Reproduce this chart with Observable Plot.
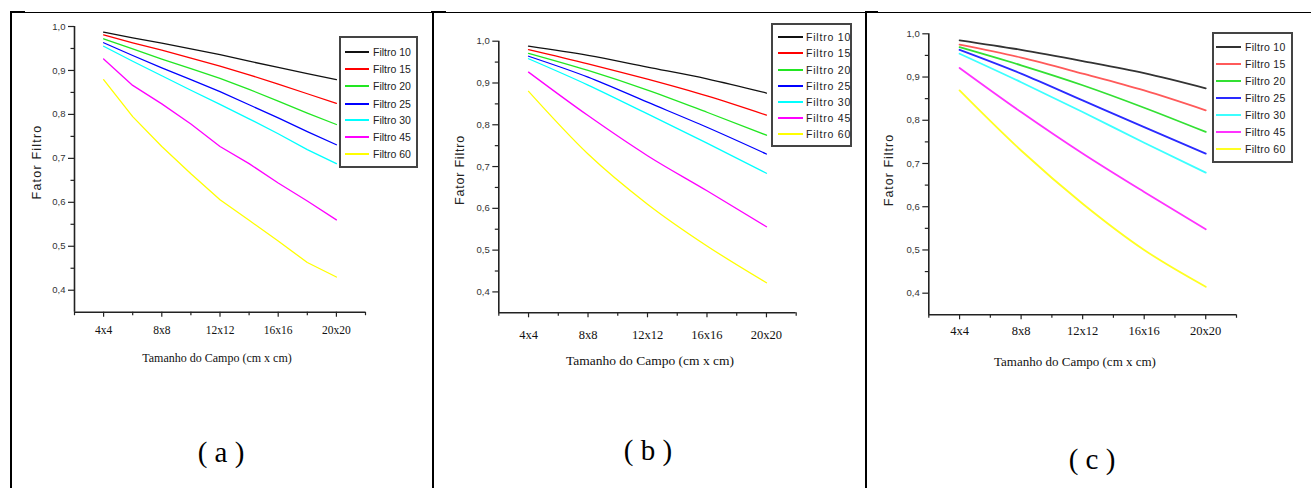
<!DOCTYPE html>
<html>
<head>
<meta charset="utf-8">
<script src="https://cdn.jsdelivr.net/npm/d3@7"></script>
<script src="https://cdn.jsdelivr.net/npm/@observablehq/plot@0.6"></script>
<style>
  html, body { margin: 0; padding: 0; background: #fff; }
  #root { position: relative; width: 1311px; height: 488px; overflow: hidden; background: #fff; }
  .hline { position: absolute; background: #000; }
  .ytitle { position: absolute; font-family: "Liberation Sans", Arial, sans-serif; font-size: 12.5px; color: #222; white-space: nowrap; transform: translate(-50%, -50%) rotate(-90deg); }
  .xtitle { position: absolute; font-family: "Liberation Serif", "Times New Roman", serif; color: #111; white-space: nowrap; transform: translate(-50%, -50%); }
  .plabel { position: absolute; font-family: "Liberation Serif", "Times New Roman", serif; font-size: 29px; color: #000; white-space: pre; transform: translate(-50%, -50%); }
  .legend { position: absolute; border: 2px solid #444; box-sizing: border-box; background: #fff; }
  .lrow { position: absolute; height: 14px; line-height: 14px; font-family: "Liberation Sans", Arial, sans-serif; font-size: 10.5px; color: #222; white-space: nowrap; }
  .sw { position: absolute; height: 0; }
</style>
</head>
<body>
<div id="root"></div>
<script>
// ---------- data ----------
const filters = ["Filtro 10", "Filtro 15", "Filtro 20", "Filtro 25", "Filtro 30", "Filtro 45", "Filtro 60"];
const colorsAB = ["#111111", "#ff0000", "#22e622", "#0000ff", "#00ffff", "#ff00ff", "#ffff00"];
const colorsC  = ["#333333", "#ff5a5a", "#33e033", "#2a2aff", "#3cffff", "#ff33ff", "#ffff22"];

const majorSizes = [4, 8, 12, 16, 20];
const minorSizes = [2, 6, 10, 14, 18, 22];
const sizeLabels = ["4x4", "8x8", "12x12", "16x16", "20x20"];
const majorY = [0.4, 0.5, 0.6, 0.7, 0.8, 0.9, 1.0];
const minorY = [0.45, 0.55, 0.65, 0.75, 0.85, 0.95];

// panel (a): read at every 2 cm
const sizesA = [4, 6, 8, 10, 12, 14, 16, 18, 20];
const panelA = [
  [0.987, 0.974, 0.962, 0.949, 0.936, 0.921, 0.907, 0.893, 0.879],
  [0.981, 0.963, 0.946, 0.928, 0.910, 0.890, 0.869, 0.847, 0.825],
  [0.972, 0.949, 0.926, 0.904, 0.882, 0.857, 0.830, 0.803, 0.777],
  [0.963, 0.934, 0.906, 0.879, 0.852, 0.822, 0.792, 0.761, 0.731],
  [0.955, 0.921, 0.888, 0.855, 0.823, 0.790, 0.756, 0.720, 0.688],
  [0.926, 0.866, 0.824, 0.778, 0.727, 0.688, 0.644, 0.603, 0.560],
  [0.879, 0.795, 0.727, 0.665, 0.606, 0.559, 0.512, 0.463, 0.430]
];
// panels (b) and (c): read at the labelled sizes
const sizesBC = [4, 8, 12, 16, 20];
const panelB = [
  [0.988, 0.966, 0.938, 0.910, 0.876],
  [0.980, 0.946, 0.909, 0.869, 0.823],
  [0.971, 0.930, 0.883, 0.830, 0.775],
  [0.964, 0.914, 0.854, 0.794, 0.730],
  [0.958, 0.895, 0.826, 0.756, 0.684],
  [0.926, 0.822, 0.726, 0.642, 0.556],
  [0.880, 0.730, 0.610, 0.510, 0.422]
];
const panelC = [
  [0.985, 0.963, 0.937, 0.909, 0.874],
  [0.975, 0.945, 0.908, 0.869, 0.823],
  [0.969, 0.927, 0.881, 0.829, 0.773],
  [0.963, 0.908, 0.846, 0.784, 0.723],
  [0.954, 0.888, 0.819, 0.748, 0.679],
  [0.921, 0.819, 0.723, 0.634, 0.548],
  [0.869, 0.730, 0.607, 0.500, 0.415]
];

const yTitle = "Fator Filtro";
const xTitle = "Tamanho do Campo (cm x cm)";
const panelLabels = ["( a )", "( b )", "( c )"];

// ---------- layout ----------
const root = document.getElementById("root");
function div(cls, css, text) {
  const d = document.createElement("div");
  if (cls) d.className = cls;
  Object.assign(d.style, css);
  if (text != null) d.textContent = text;
  root.appendChild(d);
  return d;
}

// table borders
div("hline", {left: "10px", top: "12px", width: "1301px", height: "1px"});
div("hline", {left: "10px", top: "11px", width: "15px", height: "2px"});
div("hline", {left: "431px", top: "11px", width: "15px", height: "2px"});
div("hline", {left: "865px", top: "11px", width: "13px", height: "2px"});
div("hline", {left: "10px", top: "12px", width: "2px", height: "476px"});
div("hline", {left: "432px", top: "12px", width: "2px", height: "476px"});
div("hline", {left: "865px", top: "12px", width: "2px", height: "476px"});

const panels = [
  {
    sizes: sizesA, values: panelA, colors: colorsAB, curve: "linear", sw: 1.3,
    svgLeft: 14, svgTop: 14, svgW: 416, svgH: 356,
    axL: 74, axR: 365, axT: 26, axB: 311.7, xTickPad: 9, xTickFont: 11.5,
    legend: {l: 339, r: 418, t: 36, b: 168, rows: [51.7, 69, 86, 103.7, 120, 137, 154], swL: 345, swR: 369, tx: 373, ls: 0},
    yTitle: {x: 37, y: 162, ls: 1.2},
    xTitle: {x: 217, y: 358, fs: 12},
    label: {x: 221, y: 452}
  },
  {
    sizes: sizesBC, values: panelB, colors: colorsAB, curve: "monotone-x", sw: 1.3,
    svgLeft: 436, svgTop: 14, svgW: 426, svgH: 356,
    axL: 498.3, axR: 795.7, axT: 40.7, axB: 312.3, xTickPad: 12, xTickFont: 12.5,
    legend: {l: 771, r: 852.3, t: 22.7, b: 146.7, rows: [36.7, 53.3, 70, 85.7, 101.7, 117.7, 134.3], swL: 778.3, swR: 802.7, tx: 806, ls: 0.8},
    yTitle: {x: 460, y: 170, ls: 0.8},
    xTitle: {x: 650, y: 360.7, fs: 13.5},
    label: {x: 648, y: 450}
  },
  {
    sizes: sizesBC, values: panelC, colors: colorsC, curve: "monotone-x", sw: 1.8,
    svgLeft: 869, svgTop: 14, svgW: 440, svgH: 356,
    axL: 928.3, axR: 1236, axT: 33.3, axB: 314.3, xTickPad: 6, xTickFont: 12.5,
    legend: {l: 1211.7, r: 1293.3, t: 31.7, b: 163.3, rows: [46.7, 64, 80.7, 97.7, 115, 131.7, 149], swL: 1216, swR: 1241, tx: 1245, ls: 0.3},
    yTitle: {x: 889, y: 170, ls: 1.0},
    xTitle: {x: 1075, y: 361.7, fs: 13},
    label: {x: 1092, y: 459}
  }
];

const commaFmt = d => d.toFixed(1).replace(".", ",");

panels.forEach((p, pi) => {
  const rows = [];
  p.values.forEach((series, si) => {
    series.forEach((v, k) => rows.push({filter: filters[si], size: p.sizes[k], value: v}));
  });

  const chart = Plot.plot({
    width: p.svgW,
    height: p.svgH,
    marginLeft: p.axL - p.svgLeft,
    marginRight: (p.svgLeft + p.svgW) - p.axR,
    marginTop: p.axT - p.svgTop,
    marginBottom: (p.svgTop + p.svgH) - p.axB,
    x: {domain: [2, 22]},
    y: {domain: [0.35, 1.0]},
    color: {domain: filters, range: p.colors},
    style: {background: "transparent", fontFamily: "'Liberation Sans', Arial, sans-serif", fontSize: "10px", overflow: "visible"},
    marks: [
      Plot.axisY({ticks: majorY, tickSize: 6, tickPadding: 3, tickFormat: commaFmt, label: null,
        fontSize: 9.5, fill: "#333", stroke: "#222", strokeWidth: 1.2}),
      Plot.axisY({ticks: minorY, tickSize: 3.5, tickFormat: () => "", label: null, stroke: "#222", strokeWidth: 1.2}),
      Plot.axisX({ticks: majorSizes, tickSize: 5, tickPadding: p.xTickPad, label: null,
        tickFormat: d => sizeLabels[majorSizes.indexOf(d)],
        fontFamily: "'Liberation Serif', 'Times New Roman', serif", fontSize: p.xTickFont, fill: "#111", stroke: "#222", strokeWidth: 1.2}),
      Plot.axisX({ticks: minorSizes, tickSize: 3.5, tickFormat: () => "", label: null, stroke: "#222", strokeWidth: 1.2}),
      Plot.ruleX([2], {stroke: "#222", strokeWidth: 1.6}),
      Plot.ruleY([0.35], {stroke: "#222", strokeWidth: 1.6}),
      Plot.line(rows, {x: "size", y: "value", z: "filter", stroke: "filter", strokeWidth: p.sw, curve: p.curve})
    ]
  });
  chart.style.position = "absolute";
  chart.style.left = p.svgLeft + "px";
  chart.style.top = p.svgTop + "px";
  root.appendChild(chart);

  // legend
  const L = p.legend;
  div("legend", {left: L.l + "px", top: L.t + "px", width: (L.r - L.l) + "px", height: (L.b - L.t) + "px"});
  filters.forEach((f, i) => {
    div("sw", {left: L.swL + "px", top: (L.rows[i] - 1) + "px", width: (L.swR - L.swL) + "px",
      borderTop: (pi === 2 ? 2.5 : 2) + "px solid " + p.colors[i]});
    div("lrow", {left: L.tx + "px", top: (L.rows[i] - 7) + "px", letterSpacing: L.ls + "px"}, f);
  });

  // titles
  div("ytitle", {left: p.yTitle.x + "px", top: p.yTitle.y + "px", letterSpacing: p.yTitle.ls + "px"}, yTitle);
  div("xtitle", {left: p.xTitle.x + "px", top: p.xTitle.y + "px", fontSize: p.xTitle.fs + "px"}, xTitle);
  div("plabel", {left: p.label.x + "px", top: p.label.y + "px"}, panelLabels[pi]);
});
</script>
</body>
</html>
